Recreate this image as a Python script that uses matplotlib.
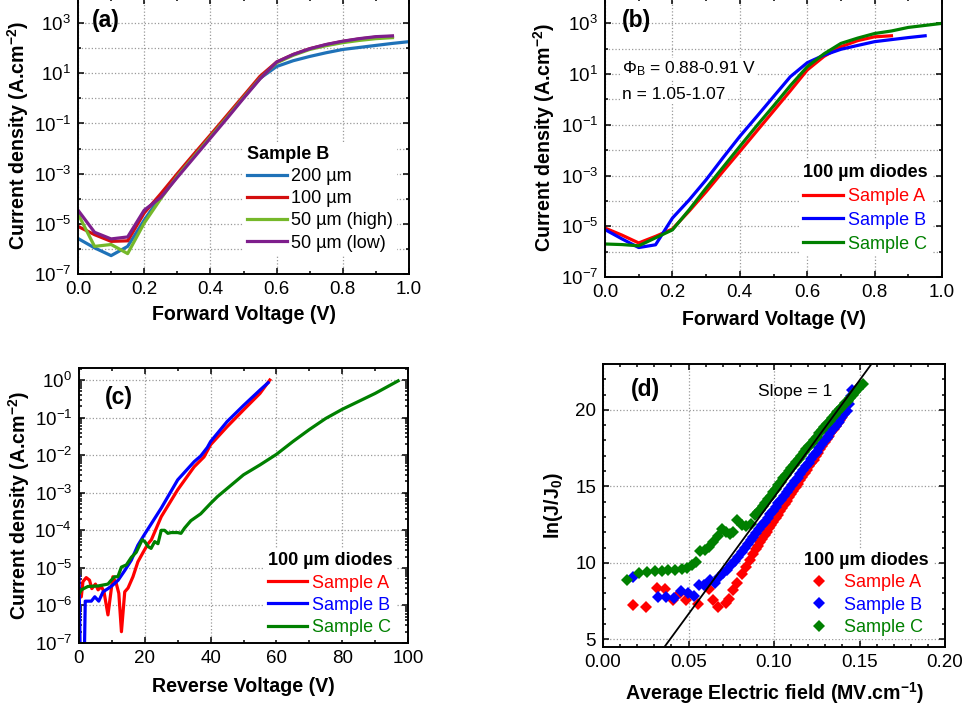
import matplotlib
matplotlib.use('Agg')
import matplotlib.pyplot as plt
from matplotlib.ticker import FixedLocator, NullFormatter, FormatStrFormatter, MultipleLocator, LogLocator

plt.rcParams['font.family'] = ['Liberation Sans', 'DejaVu Sans']
plt.rcParams['mathtext.fontset'] = 'custom'
plt.rcParams['mathtext.rm'] = 'Liberation Sans'
plt.rcParams['mathtext.it'] = 'Liberation Sans:italic'
plt.rcParams['mathtext.bf'] = 'Liberation Sans:bold'

# ---------------- (a) Sample B, different diode sizes ----------------
V_a = [0, .05, .1, .15, .2, .25, .3, .35, .4, .45, .5, .55, .6, .65, .7, .75, .8, .85, .9, .95]
V_a_200 = V_a + [1.0]
J_a_200 = [2.6e-6, 1.1e-6, 5.4e-7, 1.26e-6, 1.4e-5, 1.26e-4, 8.3e-4, 5.0e-3, 3.0e-2, 0.186, 1.12, 6.3,
           18.6, 31.6, 46.8, 66, 89, 107, 129, 155, 182]
J_a_100 = [7.9e-6, 3.7e-6, 2.0e-6, 2.1e-6, 2.7e-5, 1.58e-4, 1.0e-3, 6.0e-3, 3.5e-2, 0.21, 1.26, 7.6,
           28, 56, 95, 138, 186, 234, 275, 295]
J_a_50h = [2.5e-5, 1.26e-6, 1.5e-6, 6.5e-7, 1.07e-5, 1.0e-4, 7.9e-4, 4.8e-3, 2.9e-2, 0.174, 1.07, 6.3,
           26, 52, 89, 126, 166, 204, 240, 263]
J_a_50l = [3.5e-5, 4.6e-6, 2.5e-6, 3.0e-6, 3.5e-5, 1.12e-4, 7.1e-4, 4.3e-3, 2.6e-2, 0.158, 1.0, 6.0,
           28, 56, 95, 141, 190, 240, 288, 309]
labels_a = ['200 µm', '100 µm', '50 µm (high)', '50 µm (low)']
colors_a = ['#1f72b8', '#d40e0e', '#76b82a', '#7e1e8c']

# ---------------- (b) 100 um diodes, samples A/B/C forward ----------------
V_b_A = [0, .05, .1, .15, .2, .25, .3, .35, .4, .45, .5, .55, .6, .65, .7, .75, .8, .85]
J_b_A = [8.5e-6, 4.5e-6, 2.2e-6, 4.0e-6, 7.8e-6, 4.0e-5, 2.3e-4, 1.45e-3, 8.9e-3, 5.6e-2, 0.35, 2.2,
         14.5, 50, 120, 209, 295, 324]
V_b_B = [0, .05, .1, .15, .2, .25, .3, .35, .4, .45, .5, .55, .6, .65, .7, .75, .8, .85, .9, .95]
J_b_B = [7.4e-6, 3.2e-6, 1.45e-6, 1.86e-6, 2.1e-5, 1.1e-4, 6.8e-4, 5.0e-3, 3.5e-2, 0.21, 1.29, 7.9,
         28, 56, 95, 135, 190, 229, 275, 324]
V_b_C = [0, .05, .1, .15, .2, .25, .3, .35, .4, .45, .5, .55, .6, .65, .7, .75, .8, .85, .9, .95, 1.0]
J_b_C = [2.0e-6, 1.9e-6, 1.7e-6, 3.5e-6, 7.2e-6, 4.5e-5, 3.2e-4, 2.1e-3, 1.4e-2, 9.1e-2, 0.55, 3.5,
         19.5, 63, 162, 263, 398, 501, 692, 832, 1000]

# ---------------- (c) reverse bias ----------------
V_c_A = [0, 0.7, 1.2, 2.2, 3.2, 3.9, 5.0, 5.8, 6.8, 7.6, 8.8, 10.3, 11.3, 12.1, 12.9, 13.9, 14.9, 16.4,
         17.9, 19.5, 21.0, 22.0, 25.0, 30.0, 35.0, 38.0, 40.0, 45.0, 50.0, 55.0, 58.0]
J_c_A = [1.6e-6, 1.7e-6, 4.3e-6, 5.5e-6, 4.7e-6, 2.8e-6, 3.7e-6, 2.6e-6, 3.2e-6, 2.3e-6, 5.6e-7, 5.8e-6,
         3.9e-6, 2.1e-6, 2.0e-7, 2.3e-6, 2.9e-6, 5.8e-6, 1.45e-5, 2.6e-5, 4.4e-5, 5.6e-5, 2.3e-4, 1.2e-3,
         4.9e-3, 9.0e-3, 1.9e-2, 5.7e-2, 0.16, 0.44, 1.0]
V_c_B = [0, 0.5, 1.5, 1.9, 3.75, 4.8, 6.0, 7.3, 8.8, 10.3, 11.9, 13.9, 15.9, 17.9, 20, 25, 30, 35, 37,
         39, 40, 45, 50, 55, 57.5]
J_c_B = [5.8e-6, 1e-8, 1e-8, 1.3e-6, 1.3e-6, 1.7e-6, 1.3e-6, 2.3e-6, 2.8e-6, 3.5e-6, 4.7e-6, 8.5e-6,
         1.6e-5, 4.0e-5, 8.0e-5, 3.9e-4, 2.2e-3, 6.7e-3, 9.5e-3, 1.6e-2, 2.3e-2, 7.8e-2, 0.21, 0.54, 0.85]
V_c_C = [0, 0.7, 2.7, 5.8, 8.8, 9.8, 10.8, 11.8, 12.9, 14.4, 15.9, 17.4, 18.4, 19.2, 20.0, 21.0, 21.9,
         23.0, 24.0, 25.0, 26.0, 27.0, 28.0, 30.0, 31.0, 32.1, 34.0, 37.0, 40.0, 42.1, 50, 55, 60, 65,
         70, 75, 80, 85, 90, 97]
J_c_C = [2.0e-6, 2.6e-6, 3.2e-6, 3.3e-6, 3.7e-6, 4.7e-6, 5.8e-6, 5.8e-6, 1.05e-5, 1.2e-5, 1.9e-5, 2.6e-5,
         4.0e-5, 5.6e-5, 5.0e-5, 3.7e-5, 3.3e-5, 5.0e-5, 4.4e-5, 1.0e-4, 1.0e-4, 8.3e-5, 8.7e-5, 8.7e-5,
         8.3e-5, 1.15e-4, 1.8e-4, 2.75e-4, 5.2e-4, 7.9e-4, 3.0e-3, 5.5e-3, 1.05e-2, 2.3e-2,
         4.8e-2, 9.5e-2, 0.166, 0.27, 0.44, 0.95]

# ---------------- (d) ln(J/J0) vs average field ----------------
E_A = [0.0173, 0.0254, 0.0316, 0.0365, 0.0410, 0.0449, 0.0488, 0.0558, 0.0620, 0.0644, 0.0671, 0.0718,
       0.0738, 0.0761, 0.0784, 0.0810, 0.0836, 0.0860, 0.0879, 0.0893, 0.0906, 0.0919, 0.0932, 0.0945,
       0.0958, 0.0971, 0.0984, 0.0997, 0.1010, 0.1023, 0.1036, 0.1049, 0.1062, 0.1075, 0.1088, 0.1101,
       0.1114, 0.1127, 0.1140, 0.1153, 0.1166, 0.1179, 0.1192, 0.1205, 0.1218, 0.1231, 0.1244, 0.1257,
       0.1270, 0.1283, 0.1296, 0.1309, 0.1322, 0.1335, 0.1348, 0.1361, 0.1374, 0.1387, 0.1396]
L_A = [7.25, 7.13, 8.33, 8.26, 7.60, 8.00, 7.60, 7.30, 8.30, 7.60, 7.10, 7.40,
       7.67, 8.20, 8.70, 9.30, 9.73, 10.17, 10.60, 10.88, 11.10, 11.35, 11.55, 11.80,
       12.02, 12.25, 12.48, 12.70, 12.92, 13.15, 13.38, 13.60, 13.82, 14.05, 14.28, 14.50,
       14.72, 14.95, 15.18, 15.40, 15.62, 15.85, 16.08, 16.30, 16.52, 16.75, 16.98, 17.20,
       17.42, 17.65, 17.88, 18.10, 18.32, 18.55, 18.75, 18.95, 19.15, 19.35, 19.52]
E_B = [0.0176, 0.0323, 0.0371, 0.0414, 0.0459, 0.0499, 0.0530, 0.0562, 0.0593, 0.0623, 0.0655,
       0.0680, 0.0704, 0.0727, 0.0750, 0.0770, 0.0790, 0.0810, 0.0828, 0.0846, 0.0863, 0.0880, 0.0897,
       0.0914, 0.0930, 0.0946, 0.0962, 0.0978, 0.0994, 0.1010, 0.1026, 0.1042, 0.1058, 0.1074, 0.1090,
       0.1106, 0.1122, 0.1138, 0.1154, 0.1170, 0.1186, 0.1202, 0.1218, 0.1234, 0.1250, 0.1266, 0.1282,
       0.1298, 0.1314, 0.1330, 0.1346, 0.1362, 0.1378, 0.1394, 0.1410, 0.1425, 0.1440, 0.1448, 0.1455]
L_B = [9.06, 7.75, 7.76, 7.70, 8.19, 8.04, 7.83, 8.54, 8.56, 8.87, 8.69,
       9.08, 9.34, 9.55, 9.85, 10.12, 10.40, 10.68, 10.95, 11.22, 11.48, 11.72, 11.98,
       12.22, 12.46, 12.70, 12.94, 13.18, 13.42, 13.66, 13.90, 14.14, 14.38, 14.62, 14.86,
       15.10, 15.34, 15.58, 15.82, 16.06, 16.30, 16.55, 16.79, 17.03, 17.27, 17.51, 17.75,
       18.00, 18.24, 18.48, 18.72, 18.96, 19.20, 19.45, 19.70, 19.95, 20.40, 20.90, 21.30]
E_C = [0.0142, 0.0212, 0.0259, 0.0305, 0.0343, 0.0382, 0.0421, 0.0460, 0.0490, 0.0519, 0.0544, 0.0567,
       0.0597, 0.0622, 0.0645, 0.0675, 0.0694, 0.0719, 0.0743, 0.0762, 0.0782, 0.0811, 0.0836, 0.0864,
       0.0889, 0.0905, 0.0920, 0.0935, 0.0950, 0.0965, 0.0980, 0.0995, 0.1010, 0.1025, 0.1040, 0.1055,
       0.1070, 0.1085, 0.1100, 0.1115, 0.1130, 0.1145, 0.1160, 0.1175, 0.1190, 0.1205, 0.1220, 0.1235,
       0.1250, 0.1265, 0.1280, 0.1295, 0.1310, 0.1325, 0.1340, 0.1355, 0.1370, 0.1385, 0.1400, 0.1415,
       0.1430, 0.1445, 0.1460, 0.1475, 0.1490, 0.1505, 0.1523]
L_C = [8.91, 9.37, 9.41, 9.46, 9.50, 9.52, 9.56, 9.61, 9.67, 9.84, 10.06, 10.78,
       10.82, 11.04, 11.36, 11.75, 12.23, 12.01, 11.86, 12.01, 12.77, 12.49, 12.44, 12.55,
       13.10, 13.30, 13.48, 13.70, 13.92, 14.15, 14.40, 14.65, 14.86, 15.08, 15.30, 15.52,
       15.76, 15.98, 16.18, 16.38, 16.59, 16.80, 17.00, 17.23, 17.45, 17.65, 17.85, 18.05,
       18.26, 18.46, 18.66, 18.87, 19.07, 19.27, 19.45, 19.64, 19.84, 20.03, 20.22, 20.42,
       20.61, 20.80, 21.00, 21.20, 21.38, 21.53, 21.69]
slope_E = [0.0359, 0.157]
slope_L = [4.5, 23.0]

samples = ['Sample A', 'Sample B', 'Sample C']
colors_s = ['#ff0000', '#0000ff', '#008000']

# ---------------- figure ----------------
W, H = 964, 708
fig = plt.figure(figsize=(W / 100, H / 100), dpi=100)

LBL = 14.1
LEG = 13
TTL = 13


def add_ax(l, t, r, b):
    return fig.add_axes([l / W, 1 - b / H, (r - l) / W, (b - t) / H])


def style(ax):
    for s in ax.spines.values():
        s.set_linewidth(1.4)
    ax.set_axisbelow(True)
    ax.tick_params(which='both', direction='in', top=True, right=True, labelsize=13.5, width=1.1)
    ax.tick_params(which='major', length=4.5, pad=5)
    ax.tick_params(which='minor', length=2.5)
    ax.grid(True, which='major', color='0.6', linestyle=':', linewidth=0.9)


def jlabel(ax, xc):
    ax.set_ylabel(r'Current density (A.cm$^{\mathbf{-2}}$)', fontsize=LBL, fontweight='bold')
    ax.yaxis.set_label_coords(xc, 0.5)


def make_legend(ax, title, anchor, cols, hl=2.2, htp=0.25, ls=0.29):
    leg = ax.legend(title=title, loc='upper left', bbox_to_anchor=anchor, fontsize=LEG,
                    title_fontproperties={'weight': 'bold', 'size': TTL}, handlelength=hl,
                    handletextpad=htp, labelspacing=ls, borderpad=0.2, borderaxespad=0,
                    alignment='left', frameon=True, fancybox=False)
    for t, c in zip(leg.get_texts(), cols):
        t.set_color(c)
    fr = leg.get_frame()
    fr.set_edgecolor('none')
    fr.set_facecolor('white')
    fr.set_alpha(1)
    return leg


lw = 2.3
# (a)
ax = add_ax(78, -2, 409, 274)
style(ax)
ax.set_yscale('log')
ax.plot(V_a_200, J_a_200, color=colors_a[0], lw=lw, label=labels_a[0])
ax.plot(V_a, J_a_100, color=colors_a[1], lw=lw, label=labels_a[1])
ax.plot(V_a, J_a_50h, color=colors_a[2], lw=lw, label=labels_a[2])
ax.plot(V_a, J_a_50l, color=colors_a[3], lw=lw, label=labels_a[3])
ax.set_xlim(0, 1.0)
ax.set_ylim(1e-7, 1e4)
ax.yaxis.set_major_locator(FixedLocator([1e-7, 1e-5, 1e-3, 1e-1, 1e1, 1e3]))
ax.yaxis.set_minor_locator(FixedLocator([1e-6, 1e-4, 1e-2, 1e0, 1e2]))
ax.yaxis.set_minor_formatter(NullFormatter())
ax.yaxis.grid(True, which='minor', color='0.6', linestyle=':', linewidth=0.9)
ax.xaxis.set_major_locator(MultipleLocator(0.2))
ax.xaxis.set_minor_locator(MultipleLocator(0.1))
ax.xaxis.set_major_formatter(FormatStrFormatter('%.1f'))
ax.set_xlabel('Forward Voltage (V)', fontsize=LBL, fontweight='bold')
ax.xaxis.set_label_coords(0.5, -0.113)
jlabel(ax, -0.142)
ax.text(0.042, 0.92, '(a)', transform=ax.transAxes, fontsize=16.5, fontweight='bold', va='center')
make_legend(ax, 'Sample B', (0.5, 0.478), ['black'] * 4)

# (b)
ax = add_ax(605, -2, 942, 277)
style(ax)
ax.set_yscale('log')
ax.plot(V_b_A, J_b_A, color=colors_s[0], lw=lw, label=samples[0])
ax.plot(V_b_B, J_b_B, color=colors_s[1], lw=lw, label=samples[1])
ax.plot(V_b_C, J_b_C, color=colors_s[2], lw=lw, label=samples[2])
ax.set_xlim(0, 1.0)
ax.set_ylim(1e-7, 1e4)
ax.yaxis.set_major_locator(FixedLocator([1e-7, 1e-5, 1e-3, 1e-1, 1e1, 1e3]))
ax.yaxis.set_minor_locator(FixedLocator([1e-6, 1e-4, 1e-2, 1e0, 1e2]))
ax.yaxis.set_minor_formatter(NullFormatter())
ax.yaxis.grid(True, which='minor', color='0.6', linestyle=':', linewidth=0.9)
ax.xaxis.set_major_locator(MultipleLocator(0.2))
ax.xaxis.set_minor_locator(MultipleLocator(0.1))
ax.xaxis.set_major_formatter(FormatStrFormatter('%.1f'))
ax.set_xlabel('Forward Voltage (V)', fontsize=LBL, fontweight='bold')
ax.xaxis.set_label_coords(0.5, -0.119)
jlabel(ax, -0.142)
ax.text(0.05, 0.919, '(b)', transform=ax.transAxes, fontsize=16.5, fontweight='bold', va='center')
bb = dict(facecolor='white', edgecolor='none', pad=1)
ax.text(0.05, 0.748, r'$\Phi_\mathrm{B}$ = 0.88-0.91 V', transform=ax.transAxes, fontsize=12.5,
        va='center', bbox=bb)
ax.text(0.05, 0.655, 'n = 1.05-1.07', transform=ax.transAxes, fontsize=12.5, va='center', bbox=bb)
make_legend(ax, '100 µm diodes', (0.578, 0.418), colors_s, ls=0.38)

# (c)
ax = add_ax(79, 368, 408, 643)
style(ax)
ax.set_yscale('log')
ax.plot(V_c_A, J_c_A, color=colors_s[0], lw=lw, label=samples[0])
ax.plot(V_c_B, J_c_B, color=colors_s[1], lw=lw, label=samples[1])
ax.plot(V_c_C, J_c_C, color=colors_s[2], lw=lw, label=samples[2])
ax.set_xlim(0, 100)
ax.set_ylim(1e-7, 2.09)
ax.yaxis.set_major_locator(FixedLocator([1e-7, 1e-6, 1e-5, 1e-4, 1e-3, 1e-2, 1e-1, 1e0]))
ax.yaxis.set_minor_locator(LogLocator(base=10, subs=range(2, 10), numticks=20))
ax.yaxis.set_minor_formatter(NullFormatter())
ax.xaxis.set_major_locator(MultipleLocator(20))
ax.xaxis.set_minor_locator(MultipleLocator(10))
ax.set_xlabel('Reverse Voltage (V)', fontsize=LBL, fontweight='bold')
ax.xaxis.set_label_coords(0.5, -0.124)
jlabel(ax, -0.143)
ax.text(0.079, 0.891, '(c)', transform=ax.transAxes, fontsize=16.5, fontweight='bold', va='center')
make_legend(ax, '100 µm diodes', (0.562, 0.343), colors_s)

# (d)
ax = add_ax(603, 364, 945, 647)
style(ax)
ms = 5.8
ax.plot(E_A, L_A, 'D', color=colors_s[0], ms=ms, mew=0, label=samples[0])
ax.plot(E_B, L_B, 'D', color=colors_s[1], ms=ms, mew=0, label=samples[1])
ax.plot(E_C, L_C, 'D', color=colors_s[2], ms=ms, mew=0, label=samples[2])
ax.plot(slope_E, slope_L, color='black', lw=1.3)
ax.set_xlim(0, 0.2)
ax.set_ylim(4.5, 23)
ax.yaxis.set_major_locator(FixedLocator([5, 10, 15, 20]))
ax.yaxis.set_minor_locator(MultipleLocator(1))
ax.xaxis.set_major_locator(MultipleLocator(0.05))
ax.xaxis.set_minor_locator(MultipleLocator(0.01))
ax.xaxis.set_major_formatter(FormatStrFormatter('%.2f'))
ax.set_xlabel(r'Average Electric field (MV.cm$^{\mathbf{-1}}$)', fontsize=LBL, fontweight='bold')
ax.xaxis.set_label_coords(0.5, -0.117)
ax.set_ylabel(r'ln(J/J$_{\mathbf{0}}$)', fontsize=LBL, fontweight='bold')
ax.yaxis.set_label_coords(-0.111, 0.5)
ax.text(0.082, 0.91, '(d)', transform=ax.transAxes, fontsize=16.5, fontweight='bold', va='center')
ax.text(0.0906, 21.2, 'Slope = 1', fontsize=12.5, va='center')
make_legend(ax, '100 µm diodes', (0.578, 0.348), colors_s, hl=1.6, htp=0.62)

fig.savefig('out.png', dpi=100)
